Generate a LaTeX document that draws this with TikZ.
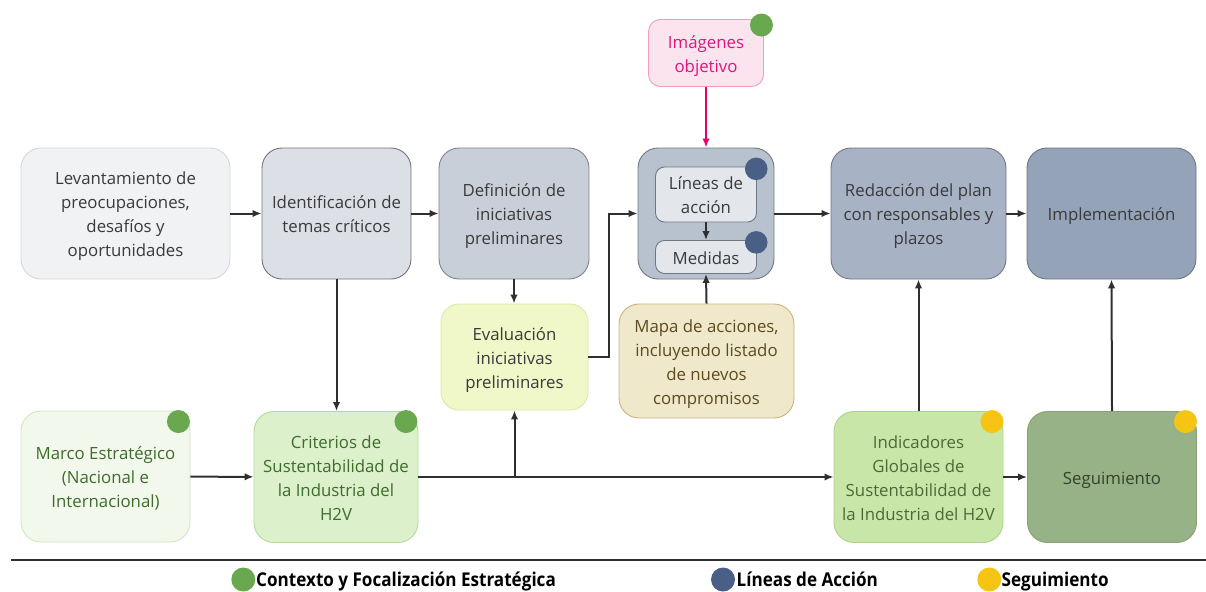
\documentclass[tikz,border=0pt]{standalone}
\usepackage{fontspec}
\usepackage{array}
\setmainfont{Open Sans}
\newfontfamily\legendfont[FakeStretch=0.9]{Open Sans}
\usetikzlibrary{arrows.meta}
\setlength{\extrarowheight}{8.3pt} % rows of 24pt, baseline a bit low

\definecolor{levfill}{HTML}{F1F2F4}\definecolor{levdraw}{HTML}{D3D6DB}
\definecolor{idefill}{HTML}{DCE0E6}\definecolor{idedraw}{HTML}{6F747B}
\definecolor{deffill}{HTML}{C9CFD9}\definecolor{defdraw}{HTML}{7D838C}
\definecolor{confill}{HTML}{B8C2CF}\definecolor{condraw}{HTML}{6F7882}
\definecolor{innfill}{HTML}{E3E7EC}
\definecolor{redfill}{HTML}{A7B2C5}\definecolor{reddraw}{HTML}{6F7884}
\definecolor{impfill}{HTML}{95A3B9}\definecolor{impdraw}{HTML}{6B7585}
\definecolor{imgfill}{HTML}{FCE4EE}\definecolor{imgdraw}{HTML}{F49BBE}
\definecolor{imgtext}{HTML}{E0157A}\definecolor{pinkline}{HTML}{E5006D}
\definecolor{evafill}{HTML}{F0F7C9}\definecolor{evadraw}{HTML}{D6EBA3}
\definecolor{mapfill}{HTML}{EFE8CB}\definecolor{mapdraw}{HTML}{C9B47A}
\definecolor{maptext}{HTML}{5B4B1E}
\definecolor{marfill}{HTML}{F3F8EC}\definecolor{mardraw}{HTML}{D2E6C2}
\definecolor{crifill}{HTML}{DCF0CC}\definecolor{cridraw}{HTML}{B5D99C}
\definecolor{greentext}{HTML}{3E6C2C}
\definecolor{indfill}{HTML}{C7E6A8}\definecolor{inddraw}{HTML}{AED38E}
\definecolor{indtext}{HTML}{4C6A38}
\definecolor{segfill}{HTML}{97B286}\definecolor{segdraw}{HTML}{86A373}
\definecolor{segtext}{HTML}{34432B}
\definecolor{greytext}{HTML}{3A3A3A}\definecolor{linegrey}{HTML}{2F2F2F}
\definecolor{dotgreen}{HTML}{6AA84F}\definecolor{dotnavy}{HTML}{4A5F86}
\definecolor{dotyellow}{HTML}{F6C514}

\tikzset{
    block/.style={draw, rounded corners=20pt, line width=0.9pt, inner sep=0pt,
        text=greytext, font=\fontsize{16.8}{15.7}\selectfont},
    subblock/.style={block, rounded corners=9pt, fill=innfill, draw=condraw,
        minimum width=101pt},
    link/.style={->, draw=linegrey, line width=2pt},
    marker/.style={fill=#1},
    legendtext/.style={anchor=base west, inner sep=0pt,
        font=\legendfont\bfseries\fontsize{19}{21}\selectfont}
}

\begin{document}
\begin{tikzpicture}[x=1pt, y=-1pt, >={Latex[length=9pt,width=7.5pt]}]
        \useasboundingbox (0,0) rectangle (1206,591);
        \renewcommand{\arraystretch}{1} % one row per baseline
        % Blocks, top row
        \node[block, fill=levfill, draw=levdraw, minimum width=209pt, minimum height=131pt] (block1) at (125.5,213.5) {
            \begin{tabular}{c}
                Levantamiento de \\
                preocupaciones, \\
                desafíos y \\
                oportunidades
            \end{tabular}
        };
        \node[block, fill=idefill, draw=idedraw, minimum width=149pt, minimum height=131pt] (block2) at (336.5,213.5) {
            \begin{tabular}{c}
                Identificación de \\
                temas críticos
            \end{tabular}
        };
        \node[block, fill=deffill, draw=defdraw, minimum width=150pt, minimum height=131pt] (block3) at (514,213.5) {
            \begin{tabular}{c}
                Definición de \\
                iniciativas \\
                preliminares
            \end{tabular}
        };
        \node[block, fill=confill, draw=condraw, minimum width=136pt, minimum height=131pt] (block4) at (706,213.5) {};
        \node[subblock, minimum height=55pt] (block4a) at (706,194.5) {
            \begin{tabular}{c}
                Líneas de \\
                acción
            \end{tabular}
        };
        \node[subblock, minimum height=33pt] (block4b) at (706,257) {
            \begin{tabular}{c}
                Medidas
            \end{tabular}
        };
        \node[block, fill=redfill, draw=reddraw, minimum width=175pt, minimum height=131pt] (block5) at (918.5,213.5) {
            \begin{tabular}{c}
                Redacción del plan \\
                con responsables y \\
                plazos
            \end{tabular}
        };
        \node[block, fill=impfill, draw=impdraw, minimum width=169pt, minimum height=131pt] (block6) at (1111.5,213.5) {
            \begin{tabular}{c}
                Implementación
            \end{tabular}
        };
        \node[block, rounded corners=12pt, fill=imgfill, draw=imgdraw, text=imgtext, minimum width=115pt, minimum height=67pt] (block7) at (706,53) {
            \begin{tabular}{c}
                Imágenes \\
                objetivo
            \end{tabular}
        };

        % Blocks, middle row
        \node[block, rounded corners=18pt, fill=evafill, draw=evadraw, minimum width=147pt, minimum height=106pt] (block8) at (514.5,357) {
            \begin{tabular}{c}
                Evaluación \\
                iniciativas \\
                preliminares
            \end{tabular}
        };
        \node[block, fill=mapfill, draw=mapdraw, text=maptext, minimum width=175pt, minimum height=114pt] (block9) at (706.5,361) {
            \begin{tabular}{c}
                Mapa de acciones, \\
                incluyendo listado \\
                de nuevos \\
                compromisos
            \end{tabular}
        };

        % Blocks, bottom row
        \node[block, fill=marfill, draw=mardraw, text=greentext, minimum width=169pt, minimum height=131pt] (block10) at (105.5,476.5) {
            \begin{tabular}{c}
                Marco Estratégico \\
                (Nacional e \\
                Internacional)
            \end{tabular}
        };
        \node[block, fill=crifill, draw=cridraw, text=greentext, minimum width=164pt, minimum height=131pt] (block11) at (336,477) {
            \begin{tabular}{c}
                Criterios de \\
                Sustentabilidad de \\
                la Industria del \\
                H2V
            \end{tabular}
        };
        \node[block, fill=indfill, draw=inddraw, text=indtext, minimum width=169pt, minimum height=131pt] (block12) at (918.5,477) {
            \begin{tabular}{c}
                Indicadores \\
                Globales de \\
                Sustentabilidad de \\
                la Industria del H2V
            \end{tabular}
        };
        \node[block, fill=segfill, draw=segdraw, text=segtext, minimum width=169pt, minimum height=131pt] (block13) at (1112,477) {
            \begin{tabular}{c}
                Seguimiento
            \end{tabular}
        };

        % Markers
        \fill[marker=dotgreen] ([xshift=-2.5pt, yshift=-6pt]block7.north east) circle (11.5pt);
        \fill[marker=dotnavy] ([xshift=-0.7pt, yshift=-2.3pt]block4a.north east) circle (11.3pt);
        \fill[marker=dotnavy] ([xshift=-0.7pt, yshift=-2.3pt]block4b.north east) circle (11.3pt);
        \fill[marker=dotgreen] ([xshift=-12pt, yshift=-11pt]block10.north east) circle (11.5pt);
        \fill[marker=dotgreen] ([xshift=-12.5pt, yshift=-10.5pt]block11.north east) circle (11.5pt);
        \fill[marker=dotyellow] ([xshift=-11.5pt, yshift=-10.5pt]block12.north east) circle (11.5pt);
        \fill[marker=dotyellow] ([xshift=-11.5pt, yshift=-10.5pt]block13.north east) circle (11.5pt);

        % Arrows
        \draw[link] (block1) -- (block2);
        \draw[link] (block2) -- (block3);
        \draw[link] (block2.south) -- (block2.south |- block11.north);
        \draw[link] (block3.south) -- (block3.south |- block8.north);
        \draw[link] (block8.east) -- ++(21,0) |- (block4.west);
        \draw[link] (block4a) -- (block4b);
        \draw[link] (block9.north) -- (block4b.south);
        \draw[link, draw=pinkline] (block7) -- (block4);
        \draw[link] (block4) -- (block5);
        \draw[link] (block5) -- (block6);
        \draw[link] (block10) -- (block11);
        \draw[link] (block11) -- (block12);
        \coordinate (split) at (block8.south |- block11.east);
        \draw[link] (split) -- (block8.south);
        \draw[link] (block12) -- (block13);
        \draw[link] (block12.north) -- (block5.south);
        \draw[link] (block13.north) -- (block6.south);

        % Legend
        \draw[line width=2.5pt, draw=linegrey] (11,560) -- (1206,560);
        \fill[marker=dotgreen] (243.3,579.5) circle (12pt);
        \node[legendtext] (legend1) at (256,586.3) {Contexto y Focalización Estratégica};
        \fill[marker=dotnavy] (723,579.5) circle (12pt);
        \node[legendtext] (legend2) at (736.5,586.3) {Líneas de Acción};
        \fill[marker=dotyellow] (989.3,579.5) circle (12pt);
        \node[legendtext] (legend3) at (1001.5,586.3) {Seguimiento};

    \end{tikzpicture}
\end{document}
